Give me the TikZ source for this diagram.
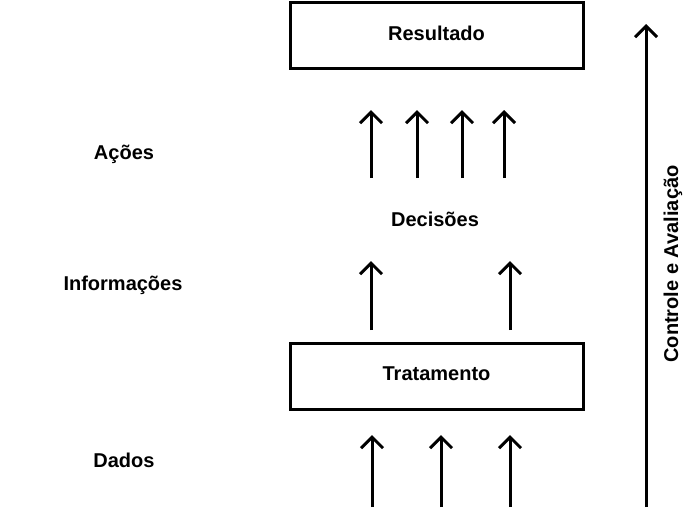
\documentclass[tikz,border=0pt]{standalone}
\usepackage{fontspec}
\setmainfont{Liberation Sans}
\usetikzlibrary{arrows.meta}
\begin{document}
\begin{tikzpicture}[x=1pt,y=-1pt,
  box/.style={draw=black,line width=3pt,minimum width=293pt,minimum height=66pt,inner sep=0pt,text depth=5pt,font=\fontsize{20}{24}\selectfont\bfseries},
  lbl/.style={inner sep=0pt,font=\fontsize{20}{24}\selectfont\bfseries},
  up/.style={line width=3pt,-{Straight Barb[length=11pt,width=22pt,line width=3pt]}}]
\useasboundingbox[fill=white] (0,0) rectangle (683,507);
\node[box] (res) at (436.5,35.5) {Resultado};
\node[box] (trat) at (436.5,376) {Tratamento};
\node[lbl] (acoes) at (124,154.5) {Ações};
\node[lbl] (dec) at (435,219) {Decisões};
\node[lbl] (info) at (123,285.5) {Informações};
\node[lbl] (dados) at (124,460.5) {Dados};
\node[lbl,rotate=90] (ctrl) at (673,264) {Controle e Avaliação};
% top group
\foreach \i/\x in {1/371,2/417,3/462,4/504}{
  \coordinate (a\i) at (\x,178);
  \coordinate (b\i) at (\x,110);
  \draw[up] (a\i) -- (b\i);
}
% middle group
\foreach \i/\x in {1/371,2/510}{
  \coordinate (m\i) at (\x,330);
  \coordinate (n\i) at (\x,261);
  \draw[up] (m\i) -- (n\i);
}
% bottom group
\foreach \i/\x in {1/372,2/441,3/510}{
  \coordinate (p\i) at (\x,507);
  \coordinate (q\i) at (\x,435);
  \draw[up] (p\i) -- (q\i);
}
\coordinate (cb) at (646,507);
\coordinate (ct) at (646,24);
\draw[up] (cb) -- (ct);
\end{tikzpicture}
\end{document}
